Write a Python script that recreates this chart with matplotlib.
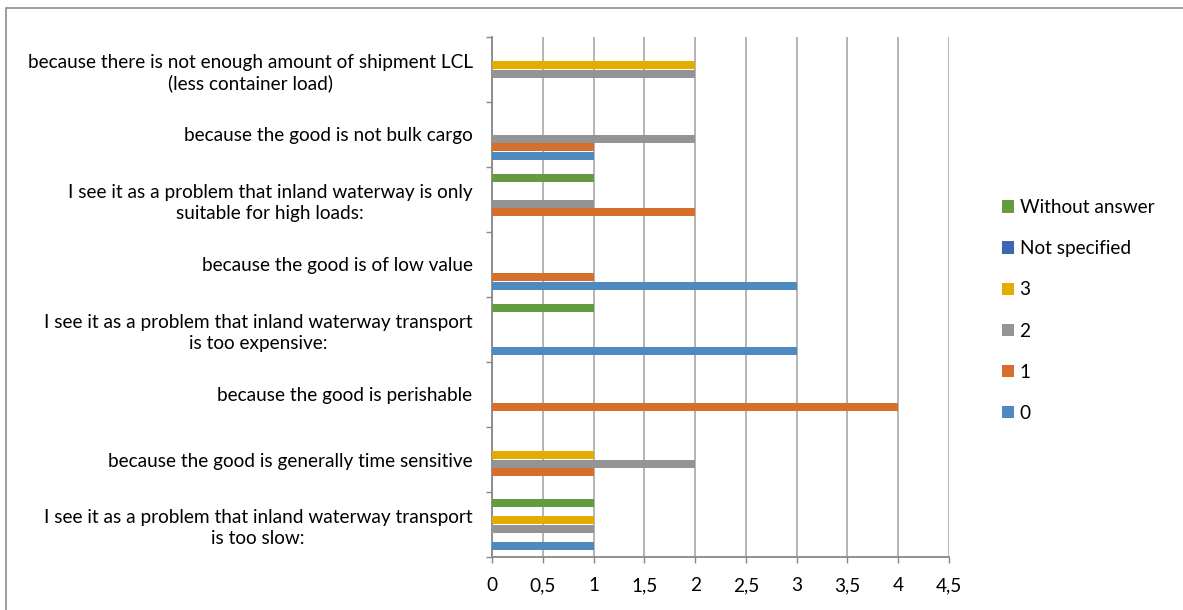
import matplotlib
matplotlib.use("Agg")
import matplotlib.pyplot as plt
import numpy as np
from matplotlib.patches import Rectangle

categories = [
    "I see it as a problem that inland waterway transport\nis too slow:",
    "because the good is generally time sensitive",
    "because the good is perishable",
    "I see it as a problem that inland waterway transport\nis too expensive:",
    "because the good is of low value",
    "I see it as a problem that inland waterway is only\nsuitable for high loads:",
    "because the good is not bulk cargo",
    "because there is not enough amount of shipment LCL\n(less container load)",
]
series_names = ["0", "1", "2", "3", "Not specified", "Without answer"]
s0 = [1, 0, 0, 3, 3, 0, 1, 0]
s1 = [0, 1, 4, 0, 1, 2, 1, 0]
s2 = [1, 2, 0, 0, 0, 1, 2, 2]
s3 = [1, 1, 0, 0, 0, 0, 0, 2]
s_ns = [0, 0, 0, 0, 0, 0, 0, 0]
s_wa = [1, 0, 0, 1, 0, 1, 0, 0]
colors = ["#4E8AC0", "#D56F2B", "#949494", "#E3AC00", "#3C66B4", "#639C3E"]
x_ticks = [0, 0.5, 1, 1.5, 2, 2.5, 3, 3.5, 4, 4.5]
x_labels = ["0", "0,5", "1", "1,5", "2", "2,5", "3", "3,5", "4", "4,5"]

plt.rcParams["font.family"] = ["Lato", "DejaVu Sans"]

W, H = 1183, 610
fig = plt.figure(figsize=(W / 100, H / 100), dpi=100)
ax = fig.add_axes([492 / W, 1 - 557 / H, (949 - 492) / W, (557 - 37) / H])

data = [s0, s1, s2, s3, s_ns, s_wa]
n = len(data)
y = np.arange(len(categories))
bh = 8.5 / 65
handles = []
for i, (vals, name, c) in enumerate(zip(data, series_names, colors)):
    b = ax.barh(y + (i - (n - 1) / 2) * bh, vals, height=bh * 0.97, color=c,
                label=name, zorder=3, edgecolor="none")
    handles.append(b)

fs = 13.7
ax.set_xlim(0, 4.5)
ax.set_ylim(-0.5, len(categories) - 0.5)
ax.set_xticks(x_ticks)
ax.set_xticklabels(x_labels, fontsize=fs)
ax.set_yticks(y)
ax.set_yticklabels(categories, fontsize=fs)
for lbl in ax.get_yticklabels():
    lbl.set_multialignment("center")
    lbl.set_linespacing(1.25)
ax.set_yticks(np.arange(-0.5, len(categories), 1), minor=True)
ax.tick_params(axis="y", which="major", length=0, pad=14)
ax.tick_params(axis="y", which="minor", length=4.5, color="#888888", width=1)
ax.tick_params(axis="x", which="major", length=4.5, color="#888888", width=1, pad=10)

ax.grid(axis="x", color="#A8A8A8", linewidth=1.2, zorder=0)
for s in ["top", "right"]:
    ax.spines[s].set_visible(False)
for s in ["left", "bottom"]:
    ax.spines[s].set_color("#888888")
    ax.spines[s].set_linewidth(1.3)

leg = fig.legend(handles[::-1], series_names[::-1], loc="center left",
                 bbox_to_anchor=(1002 / W, 1 - 310.5 / H), frameon=False,
                 fontsize=fs, handlelength=0.62, handleheight=0.62,
                 handletextpad=0.3, labelspacing=1.27, borderpad=0, borderaxespad=0)

fig.patches.append(Rectangle((6 / W, -0.1), 1.2, 1.1 - 8 / H, transform=fig.transFigure,
                             fill=False, edgecolor="#8C8C8C", linewidth=1.2))

fig.savefig("out.png", dpi=100)
